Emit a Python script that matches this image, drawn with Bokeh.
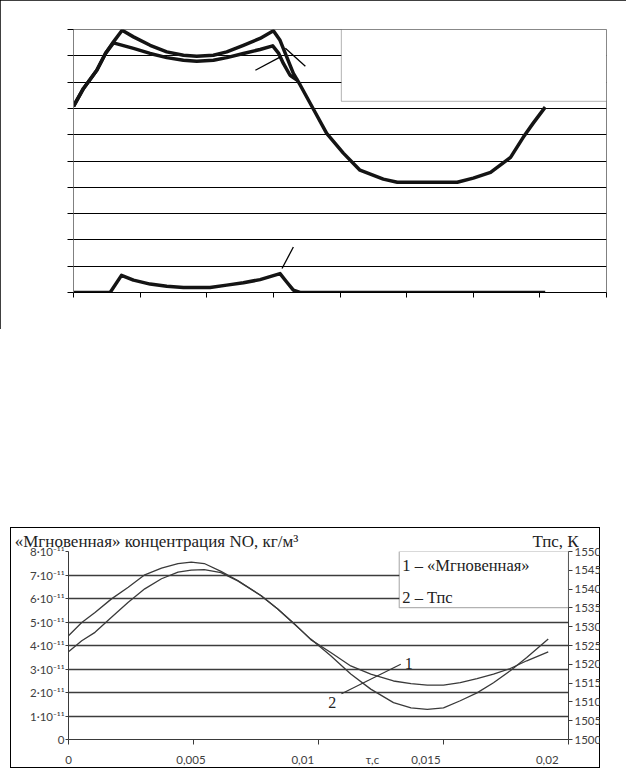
from bokeh.plotting import figure
from bokeh.models import Range1d, LinearAxis, FixedTicker, BoxAnnotation, Label, Spacer
from bokeh.layouts import column
from bokeh.embed import file_html
from bokeh.resources import INLINE

# ---------------- top chart (no labels in the source) ----------------
top_x_ticks = [0, 1, 2, 3, 4, 5, 6, 7, 8]
top_y_ticks = [0, 1, 2, 3, 4, 5, 6, 7, 8, 9, 10]

curve_a_x = [0, 0.15, 0.35, 0.48, 0.6, 0.73, 0.9, 1.15, 1.40, 1.65, 1.85, 2.10, 2.30, 2.55,
             2.80, 3.0, 3.10, 3.20, 3.30, 3.40, 3.61, 3.80, 4.05, 4.30, 4.65, 4.86, 5.76,
             6.00, 6.26, 6.56, 6.75, 6.90, 7.08]
curve_a_y = [7.08, 7.76, 8.45, 9.09, 9.53, 9.97, 9.72, 9.40, 9.15, 9.02, 8.98, 9.02, 9.15, 9.40,
             9.66, 9.95, 9.59, 8.96, 8.33, 7.90, 6.93, 6.05, 5.30, 4.65, 4.31, 4.19, 4.19,
             4.35, 4.57, 5.14, 5.90, 6.44, 7.05]

curve_b_x = [0, 0.15, 0.35, 0.48, 0.6, 0.9, 1.15, 1.40, 1.65, 1.85, 2.10, 2.30, 2.55, 2.80,
             2.99, 3.08, 3.15, 3.25, 3.36]
curve_b_y = [7.08, 7.76, 8.45, 9.09, 9.49, 9.28, 9.09, 8.93, 8.83, 8.79, 8.83, 8.93, 9.09, 9.24,
             9.38, 9.09, 8.71, 8.26, 8.07]

curve_c_x = [0, 0.55, 0.72, 0.9, 1.15, 1.40, 1.65, 2.05, 2.30, 2.55, 2.80, 3.10, 3.20, 3.30, 3.40, 7.08]
curve_c_y = [0, 0, 0.65, 0.47, 0.32, 0.24, 0.19, 0.19, 0.28, 0.37, 0.49, 0.72, 0.40, 0.09, 0, 0]

# ---------------- bottom chart ----------------
t_s = [0, 0.00053, 0.00106, 0.00172, 0.00239, 0.00305, 0.00372, 0.00438, 0.00491, 0.00543,
       0.0061, 0.00677, 0.0077, 0.00837, 0.00903, 0.00969, 0.01049, 0.01129, 0.01209, 0.0130,
       0.0137, 0.01435, 0.0150, 0.01567, 0.01634, 0.0170, 0.01767, 0.01833, 0.01919]
conc_e11 = [3.73, 4.20, 4.56, 5.20, 5.84, 6.41, 6.84, 7.12, 7.21, 7.23, 7.10, 6.75, 6.12, 5.55,
            4.93, 4.25, 3.70, 3.13, 2.78, 2.49, 2.38, 2.31, 2.31, 2.42, 2.59, 2.78, 3.02, 3.35, 3.73]
temp_K = [1527.6, 1531.1, 1533.8, 1537.4, 1540.5, 1543.8, 1545.6, 1546.8, 1547.2, 1546.8,
          1544.7, 1542.3, 1538.3, 1534.7, 1530.7, 1526.7, 1522.3, 1517.4, 1513.4, 1509.8,
          1508.4, 1508.0, 1508.4, 1510.3, 1512.4, 1515.1, 1518.3, 1521.8, 1526.7]

conc_ticks = [0, 1, 2, 3, 4, 5, 6, 7, 8]
conc_labels = ["0", "1·10⁻¹¹", "2·10⁻¹¹", "3·10⁻¹¹", "4·10⁻¹¹", "5·10⁻¹¹", "6·10⁻¹¹", "7·10⁻¹¹", "8·10⁻¹¹"]
temp_ticks = [1500, 1505, 1510, 1515, 1520, 1525, 1530, 1535, 1540, 1545, 1550]
time_ticks = [0, 0.005, 0.01, 0.015, 0.02]
time_label_pos = [0, 0.0049, 0.00937, 0.01216, 0.0143, 0.01915]
time_labels = ["0", "0,005", "0,01", "τ,c", "0,015", "0,02"]

title_pos = [0.00352, 0.01948]
title_texts = ["«Мгновенная» концентрация NO, кг/м³", "Тпс, К"]
legend_1 = "1 –  «Мгновенная»"
legend_2 = "2 –   Тпс"

SERIF = "Liberation Serif"
SANS = "Lato"

# ======== figure 1 ========
p1 = figure(frame_width=533, frame_height=263, output_backend="svg", toolbar_location=None,
            x_range=Range1d(0, 8), y_range=Range1d(0, 10),
            min_border_left=73, min_border_right=20, min_border_top=29, min_border_bottom=37)
p1.styles = {"outline": "1px solid black", "outline-offset": "-1px"}
p1.outline_line_color = "#808080"
p1.outline_line_width = 1
p1.xgrid.visible = False
p1.ygrid.ticker = FixedTicker(ticks=top_y_ticks[1:-1])
p1.ygrid.grid_line_color = "black"
p1.ygrid.grid_line_width = 1

p1.xaxis.ticker = FixedTicker(ticks=top_x_ticks)
p1.yaxis.ticker = FixedTicker(ticks=top_y_ticks)
p1.xaxis.major_label_overrides = {t: "" for t in top_x_ticks}
p1.yaxis.major_label_overrides = {t: "" for t in top_y_ticks}
for ax in (p1.xaxis, p1.yaxis):
    ax.major_tick_in = 0
    ax.minor_tick_line_color = None
p1.xaxis.major_tick_out = 5
p1.yaxis.major_tick_out = 6
p1.xaxis.axis_line_color = "black"
p1.xaxis.major_tick_line_color = "black"
p1.yaxis.axis_line_color = "#808080"
p1.yaxis.major_tick_line_color = "black"

line_col = "#141414"
p1.line(curve_c_x, curve_c_y, line_color=line_col, line_width=3.5, line_join="round")
p1.line(curve_b_x, curve_b_y, line_color=line_col, line_width=3.5, line_join="round")
p1.line(curve_a_x, curve_a_y, line_color=line_col, line_width=3.5, line_join="round")

# leader lines
p1.segment(x0=[2.73, 3.18, 3.13], y0=[8.45, 9.29, 0.91],
           x1=[3.10, 3.48, 3.30], y1=[8.95, 8.60, 1.73], line_color="black", line_width=1.3)

p1.add_layout(BoxAnnotation(left=4.02, right=8, bottom=7.27, top=10,
                            fill_color="white", fill_alpha=1, line_color="black", line_width=1))

# ======== figure 2 ========
p2 = figure(frame_width=500, frame_height=188, output_backend="svg", toolbar_location=None,
            x_range=Range1d(0, 0.02), y_range=Range1d(0, 8),
            min_border_left=57, min_border_right=48, min_border_top=24, min_border_bottom=24)
p2.margin = (0, 0, 0, -5)
p2.border_fill_color = None
p2.background_fill_color = None
box_edge = "linear-gradient(#000,#000)"
p2.styles = {
    "background": (f"{box_edge} 15px 0/calc(100% - 15px) 1px no-repeat, "
                   f"{box_edge} 15px 100%/calc(100% - 15px) 1px no-repeat, "
                   f"{box_edge} 15px 0/1px 100% no-repeat, "
                   f"{box_edge} 100% 0/1px 100% no-repeat"),
}
p2.outline_line_color = None
p2.extra_y_ranges = {"T": Range1d(1500, 1550)}

p2.xgrid.visible = False
p2.ygrid.ticker = FixedTicker(ticks=conc_ticks[1:-1])
p2.ygrid.grid_line_color = "#3c3c3c"
p2.ygrid.grid_line_width = 1.5

ax_col = "#3a3a3a"
lab_col = "#404040"
tick_font_size = "11.5px"

p2.yaxis.ticker = FixedTicker(ticks=conc_ticks)
p2.yaxis.major_label_overrides = dict(zip(conc_ticks, conc_labels))
p2.yaxis.major_tick_in = 0
p2.yaxis.major_tick_out = 3
p2.yaxis.minor_tick_line_color = None
p2.yaxis.major_label_standoff = 1
p2.yaxis.axis_line_color = ax_col
p2.yaxis.major_tick_line_color = ax_col
p2.yaxis.major_label_text_font = SANS
p2.yaxis.major_label_text_font_size = tick_font_size
p2.yaxis.major_label_text_color = lab_col

p2.xaxis.ticker = FixedTicker(ticks=time_label_pos, minor_ticks=time_ticks)
p2.xaxis.major_label_overrides = dict(zip(time_label_pos, time_labels))
p2.xaxis.major_tick_in = 0
p2.xaxis.major_tick_out = 0
p2.xaxis.minor_tick_in = 0
p2.xaxis.minor_tick_out = 5
p2.xaxis.major_label_standoff = 8
p2.xaxis.axis_line_color = ax_col
p2.xaxis.minor_tick_line_color = ax_col
p2.xaxis.major_label_text_font = SANS
p2.xaxis.major_label_text_font_size = tick_font_size
p2.xaxis.major_label_text_color = lab_col

rax = LinearAxis(y_range_name="T", ticker=FixedTicker(ticks=temp_ticks))
rax.major_tick_in = 0
rax.major_tick_out = 4
rax.minor_tick_line_color = None
rax.major_label_standoff = 2
rax.axis_line_color = ax_col
rax.major_tick_line_color = ax_col
rax.major_label_text_font = SANS
rax.major_label_text_font_size = tick_font_size
rax.major_label_text_color = lab_col
p2.add_layout(rax, "right")

# titles placed as labels of a bare axis above the frame
tax = LinearAxis(ticker=FixedTicker(ticks=title_pos),
                 major_label_overrides=dict(zip(title_pos, title_texts)))
tax.axis_line_color = None
tax.major_tick_line_color = None
tax.minor_tick_line_color = None
tax.major_tick_out = 0
tax.major_tick_in = 0
tax.major_label_standoff = 1
tax.major_label_text_font = SERIF
tax.major_label_text_font_size = "17px"
tax.major_label_text_color = "#222222"
p2.add_layout(tax, "above")

curve_col = "#3a3a3a"
p2.line(t_s, conc_e11, line_color=curve_col, line_width=1.3)
p2.line(t_s, temp_K, y_range_name="T", line_color=curve_col, line_width=1.3)

# leader 2 -> 1
p2.segment(x0=[0.01092], y0=[1.95], x1=[0.01329], y1=[3.20], line_color="#333333", line_width=1.2)
p2.add_layout(Label(x=0.01345, y=3.22, text="1", text_font=SERIF, text_font_size="16px",
                    text_color="#222222", text_baseline="middle", text_align="left"))
p2.add_layout(Label(x=0.01055, y=1.56, text="2", text_font=SERIF, text_font_size="16px",
                    text_color="#222222", text_baseline="middle", text_align="center"))

# legend box
p2.add_layout(BoxAnnotation(left=0.01323, right=0.02, bottom=5.61, top=8,
                            fill_color="white", fill_alpha=1, line_color="black", line_width=1.2))
p2.add_layout(Label(x=0.01323, y=7.40, x_offset=3, text=legend_1, text_font=SERIF,
                    text_font_size="16.5px", text_color="#222222", text_baseline="middle"))
p2.add_layout(Label(x=0.01323, y=6.05, x_offset=3, text=legend_2, text_font=SERIF,
                    text_font_size="16.5px", text_color="#222222", text_baseline="middle"))

layout = column(p1, Spacer(height=198), p2)
open("out.html", "w").write(file_html(layout, INLINE))
